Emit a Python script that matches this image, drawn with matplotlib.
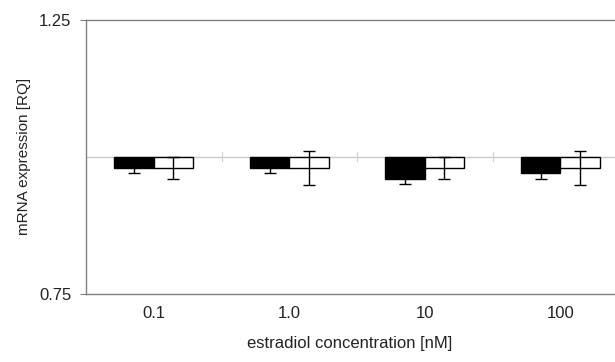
import matplotlib
matplotlib.use("Agg")
import matplotlib.pyplot as plt
import numpy as np

plt.rcParams['font.family'] = ['Liberation Sans', 'DejaVu Sans']

categories = ["0.1", "1.0", "10", "100"]
black_vals = [0.98, 0.98, 0.96, 0.97]
black_err = [0.009, 0.009, 0.010, 0.010]
white_vals = [0.98, 0.98, 0.98, 0.98]
white_err = [0.020, 0.031, 0.020, 0.031]
baseline = 1.0

fig = plt.figure(figsize=(6.15, 3.62), dpi=100)
ax = fig.add_axes([86/615, 1 - 294/362, (628 - 86)/615, (294 - 19.5)/362])
ax.patch.set_visible(False)

x = np.arange(len(categories))
w = 0.29
bk = [v - baseline for v in black_vals]
wh = [v - baseline for v in white_vals]
ax.bar(x - w/2, bk, w, bottom=baseline, color='black', edgecolor='black', linewidth=1.0, zorder=3)
ax.bar(x + w/2, wh, w, bottom=baseline, color='white', edgecolor='black', linewidth=1.0, zorder=3)
ax.errorbar(x - w/2, black_vals, yerr=black_err, fmt='none', ecolor='black', elinewidth=1.0, capsize=4, capthick=1.0, zorder=2)
ax.errorbar(x + w/2, white_vals, yerr=white_err, fmt='none', ecolor='black', elinewidth=1.0, capsize=4, capthick=1.0, zorder=4)

# baseline category axis at 1.0
ax.axhline(baseline, color='#c8c8c8', linewidth=1.0, zorder=1)
for b in np.arange(len(categories) - 1) + 0.5:
    ax.plot([b, b], [baseline - 0.008, baseline + 0.008], color='#d0d0d0', linewidth=0.8, zorder=1)

ax.set_xlim(-0.5, len(categories) - 0.5)
ax.set_ylim(0.75, 1.25)
ax.set_yticks([0.75, 1.25])
ax.set_yticklabels(["0.75", "1.25"])
ax.set_xticks(x)
ax.set_xticklabels(categories)
ax.tick_params(axis='x', length=0, pad=9, labelsize=12, labelcolor='#222222')
ax.tick_params(axis='y', length=4, width=0.8, color='#808080', pad=6.5, labelsize=12, labelcolor='#222222')
for s in ax.spines.values():
    s.set_color('#808080')
    s.set_linewidth(1.0)
ax.spines['right'].set_visible(False)

ax.set_xlabel("estradiol concentration [nM]", fontsize=12, color='#222222', labelpad=10)
ax.xaxis.set_label_coords((350 - 86) / 542, -(336 - 294) / 274.5)
ax.xaxis.label.set_va('top')
ax.set_ylabel("mRNA expression [RQ]", fontsize=11, color='#222222')
ax.yaxis.set_label_coords(-(86 - 31) / 542, 0.5)

fig.savefig("out.png", dpi=100)
